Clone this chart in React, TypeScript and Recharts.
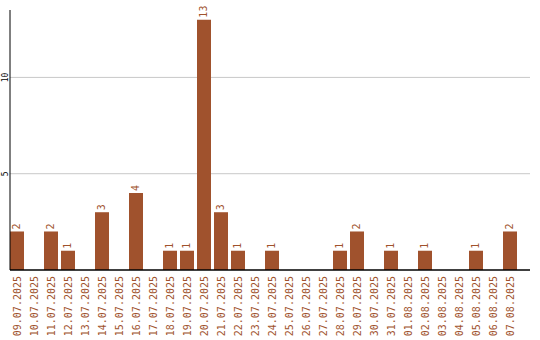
import { Bar, BarChart, CartesianGrid, LabelList, XAxis, YAxis } from "recharts";

const dates = [
  "09.07.2025", "10.07.2025", "11.07.2025", "12.07.2025", "13.07.2025",
  "14.07.2025", "15.07.2025", "16.07.2025", "17.07.2025", "18.07.2025",
  "19.07.2025", "20.07.2025", "21.07.2025", "22.07.2025", "23.07.2025",
  "24.07.2025", "25.07.2025", "26.07.2025", "27.07.2025", "28.07.2025",
  "29.07.2025", "30.07.2025", "31.07.2025", "01.08.2025", "02.08.2025",
  "03.08.2025", "04.08.2025", "05.08.2025", "06.08.2025", "07.08.2025",
];
const counts = [
  2, 0, 2, 1, 0, 3, 0, 4, 0, 1,
  1, 13, 3, 1, 0, 1, 0, 0, 0, 1,
  2, 0, 1, 0, 1, 0, 0, 1, 0, 2,
];
const yTicks = [5, 10];

const BROWN = "#a0522d";
const MONO = "'DejaVu Sans Mono', monospace";

const data = dates.map((date, i) => ({ date, count: counts[i] }));

function DateTick({ x, y, payload }: any) {
  const ty = 276;
  return (
    <text
      x={x}
      y={ty}
      dy="0.35em"
      transform={`rotate(-90, ${x}, ${ty})`}
      textAnchor="end"
      fill={BROWN}
      fontFamily={MONO}
      fontSize={10}
    >
      {payload.value}
    </text>
  );
}

function CountTick({ y, payload }: any) {
  const tx = 5;
  return (
    <text
      x={tx}
      y={y}
      dy="0.35em"
      transform={`rotate(-90, ${tx}, ${y})`}
      textAnchor="middle"
      fill="#000"
      fontFamily={MONO}
      fontSize={8}
    >
      {payload.value}
    </text>
  );
}

function ValueLabel({ x, y, width, value }: any) {
  if (!value) return null;
  const cx = x + width / 2;
  const cy = y - 2;
  return (
    <text
      x={cx}
      y={cy}
      dy="0.35em"
      transform={`rotate(-90, ${cx}, ${cy})`}
      textAnchor="start"
      fill={BROWN}
      fontFamily={MONO}
      fontSize={10}
    >
      {value}
    </text>
  );
}

export default function App() {
  return (
    <div style={{ position: "absolute", left: 0, top: 0, background: "#fff" }}>
      <BarChart
        width={540}
        height={340}
        data={data}
        margin={{ top: 10, right: 10, bottom: 0, left: 0 }}
        barCategoryGap={1.5}
      >
        <CartesianGrid vertical={false} stroke="#c8c8c8" horizontalValues={yTicks} />
        <XAxis
          dataKey="date"
          interval={0}
          height={70}
          padding={{ left: -1.5, right: 11.5 }}
          tickLine={false}
          axisLine={{ stroke: "#000", strokeWidth: 1.5 }}
          tick={<DateTick />}
        />
        <YAxis
          width={10}
          domain={[0, 13.5]}
          ticks={yTicks}
          tickLine={false}
          axisLine={{ stroke: "#000", strokeWidth: 1 }}
          tick={<CountTick />}
        />
        <Bar dataKey="count" fill={BROWN} isAnimationActive={false}>
          <LabelList dataKey="count" content={<ValueLabel />} />
        </Bar>
      </BarChart>
    </div>
  );
}
